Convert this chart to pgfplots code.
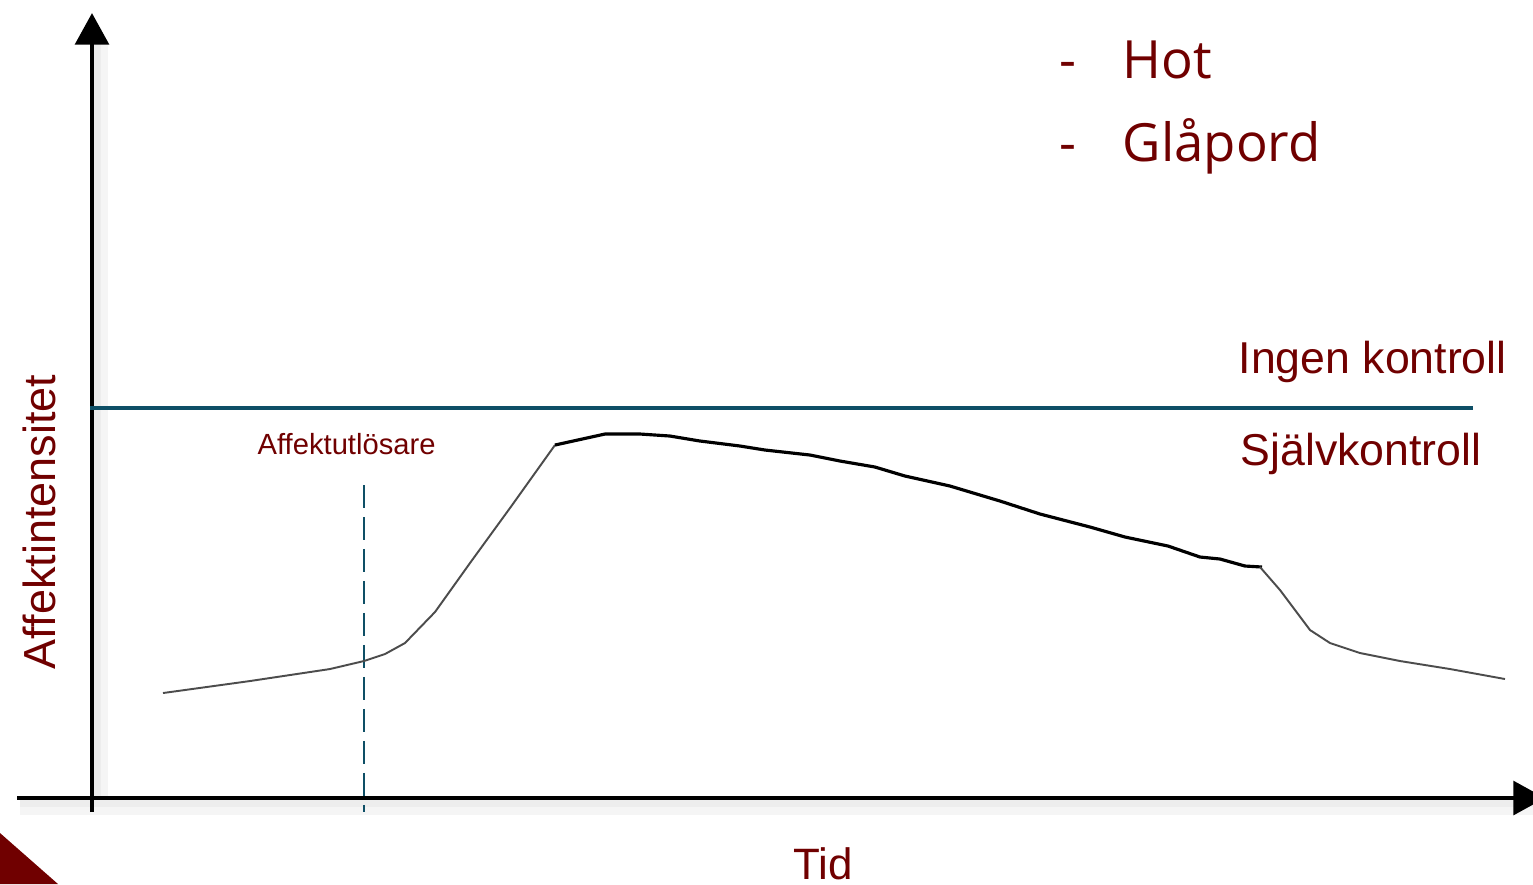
\documentclass[border=0pt]{standalone}
\usepackage{pgfplots}
\pgfplotsset{compat=1.18}
\usepackage{fontspec}
\setmainfont{Liberation Sans}
\newfontfamily\listfont{Open Sans}
\usetikzlibrary{arrows.meta}
\definecolor{darkred}{RGB}{112,0,0}
\definecolor{lineblue}{RGB}{14,79,102}

\begin{document}
\begin{tikzpicture}
\begin{axis}[
    scale only axis,
    width=153.3mm,
    height=88.4mm,
    xmin=0, xmax=1533,
    ymin=0, ymax=884,
    y dir=reverse,
    hide axis,
]
% soft shadows of the axes
\addplot[black!4, line width=5pt] coordinates {(99,812) (99,40)};
\addplot[black!7, line width=2.5pt] coordinates {(97,812) (97,40)};
\addplot[black!4, line width=5pt] coordinates {(20,806) (1533,806)};
\addplot[black!7, line width=2.5pt] coordinates {(20,803) (1533,803)};
% axes
\addplot[black, line width=1.4pt, -{Triangle[width=9.5pt,length=9pt]}] coordinates {(92,812) (92,13)};
\addplot[black, line width=1.4pt, -{Triangle[width=9.5pt,length=9pt]}] coordinates {(17,798) (1545,798)};

% control threshold
\addplot[lineblue, line width=1.15pt] coordinates {(90,408) (1473,408)};
% trigger
\addplot[lineblue, line width=0.65pt, dash pattern=on 6.5pt off 2.6pt] coordinates {(364,485) (364,812)};

% affect curve
\addplot[black!70, line width=0.55pt] coordinates {
  (163,693) (250,681) (330,669) (364,661) (385,654) (405,643)
  (435,612) (470,563) (510,508) (555,445)
};
\addplot[black, line width=0.9pt] coordinates {
  (555,445) (605,434) (640,434) (670,436) (700,441) (740,446)
  (765,450) (810,455) (840,461) (875,467) (905,476) (950,486)
  (1000,501) (1040,514) (1090,527) (1125,537) (1168,546) (1200,557)
  (1220,559) (1245,566) (1262,567)
};
\addplot[black!70, line width=0.55pt] coordinates {
  (1260,567) (1280,590) (1295,610) (1310,630) (1330,643) (1360,653)
  (1400,661) (1450,669) (1505,679)
};

% corner decoration
\addplot[fill=darkred, draw=none] coordinates {(0,833) (58,884) (0,884)};

% labels
\node[anchor=base west, inner sep=0pt, text=darkred, font=\fontsize{8.3}{10}\selectfont] at (axis cs:257,454) {Affektutlösare};
\node[anchor=base west, inner sep=0pt, text=darkred, font=\fontsize{12.7}{15}\selectfont] at (axis cs:1238,373) {Ingen kontroll};
\node[anchor=base west, inner sep=0pt, text=darkred, font=\fontsize{12.7}{15}\selectfont] at (axis cs:1240,465) {Självkontroll};
\node[anchor=base, inner sep=0pt, rotate=90, text=darkred, font=\fontsize{12.8}{15}\selectfont] at (axis cs:55,522) {Affektintensitet};
\node[anchor=base, inner sep=0pt, text=darkred, font=\fontsize{12.5}{15}\selectfont] at (axis cs:823,879) {Tid};

\node[anchor=base west, inner sep=0pt, text=darkred, font=\listfont\fontsize{15}{18}\selectfont] at (axis cs:1059,78) {-};
\node[anchor=base west, inner sep=0pt, text=darkred, font=\listfont\fontsize{15}{18}\selectfont] at (axis cs:1122,78) {Hot};
\node[anchor=base west, inner sep=0pt, text=darkred, font=\listfont\fontsize{15}{18}\selectfont] at (axis cs:1059,161) {-};
\node[anchor=base west, inner sep=0pt, text=darkred, font=\listfont\fontsize{15}{18}\selectfont] at (axis cs:1122,161) {Glåpord};
\end{axis}
\pgfresetboundingbox
\path (current axis.south west) rectangle (current axis.north east);
\end{tikzpicture}
\end{document}
